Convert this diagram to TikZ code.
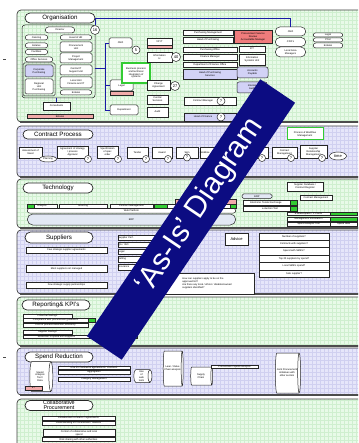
\documentclass[tikz,border=0pt]{standalone}
\usepackage{fontspec}
\setmainfont{Liberation Sans}
\usepackage{tikz}
\usetikzlibrary{positioning,shapes.geometric,shapes.misc}
\definecolor{pgrn}{HTML}{E8FAE8}
\definecolor{ggrn}{HTML}{CFEFCF}
\definecolor{plav}{HTML}{E6E6FA}
\definecolor{glav}{HTML}{D0D0F0}
\definecolor{boxlav}{HTML}{D2D2F6}
\definecolor{barpink}{HTML}{F2AAAA}
\definecolor{redbox}{HTML}{F07C7C}
\definecolor{brgrn}{HTML}{33CC33}
\definecolor{orgblue}{HTML}{1A1AA6}
\definecolor{navyban}{HTML}{0C0C82}
\definecolor{erpblue}{HTML}{E2E8F4}
\newcommand\tfnt{\fontsize{2.5}{2.9}\selectfont}
\newcommand\ttlfnt{\fontsize{6.2}{6.6}\selectfont}
\newcommand\numfnt{\fontsize{4}{4}\selectfont}
\tikzset{
  panel/.style={draw=black!75,line width=0.7pt,rounded corners=4pt},
  ttl/.style={draw=black!85,fill=white,rounded rectangle,line width=0.7pt,font=\ttlfnt,inner sep=0pt,align=center},
  bx/.style={draw=black!85,fill=white,line width=0.5pt,inner sep=0.3pt,align=center,font=\tfnt},
  rbx/.style={bx,rounded corners=1.5pt},
  pil/.style={bx,rounded rectangle},
  lbx/.style={bx,fill=boxlav},
  gbl/.style={draw=black!85,fill=brgrn,line width=0.4pt,inner sep=0pt},
  bar/.style={bx,fill=barpink},
  num/.style={circle,draw=black!85,fill=white,line width=0.5pt,inner sep=0pt,font=\numfnt},
  ovl/.style={ellipse,draw=black!85,fill=white,line width=0.5pt,inner sep=0pt,font=\tfnt},
  cyl/.style={cylinder,draw=black!85,fill=white,line width=0.5pt,inner sep=0.3pt,align=center,font=\tfnt,aspect=0.35},
  blu/.style={draw=orgblue,line width=0.8pt},
  sz/.style 2 args={minimum width=#1,minimum height=#2},
}
\begin{document}
\begin{tikzpicture}[x=1pt,y=-1pt]
  \useasboundingbox (0,0) rectangle (358,443);
  \clip (0,0) rectangle (358,443);
  \fill[white] (0,0) rectangle (358,443);
  \foreach \ya/\yb/\pf/\pg in {10/122/pgrn/ggrn,126/177/plav/glav,179/228/pgrn/ggrn,230/294/plav/glav,
      297/346/pgrn/ggrn,348/395/plav/glav,399/470/pgrn/ggrn}{
    \begin{scope}
      \clip[rounded corners=4pt] (17,\ya) rectangle (380,\yb);
      \fill[\pf] (17,\ya) rectangle (380,\yb);
      \begin{scope}[y=1pt]
        \draw[\pg,line width=0.25pt,step=4] (17,-\yb) grid (380,-\ya);
      \end{scope}
    \end{scope}
    \draw[panel] (17,\ya) rectangle (380,\yb);
    \draw[black!70,line width=1.3pt] (20,\yb) -- (380,\yb);
  }
  \fill[black!70] (3,59) rectangle (6,60.5);
  \fill[black!70] (3,356.5) rectangle (6,358);

  \node[ttl,sz={70}{10}] (torg) at (60,18) {Organisation};
  \node[ttl,sz={70}{9}] (tcon) at (58,134.5) {Contract Process};
  \node[ttl,sz={70}{10}] (ttec) at (58,188) {Technology};
  \node[ttl,sz={68}{11}] (tsup) at (59,237.5) {Suppliers};
  \node[ttl,sz={68}{10}] (trep) at (56,305) {Reporting\& KPI's};
  \node[ttl,sz={68}{10}] (tspd) at (59,357) {Spend Reduction};
  \node[ttl,sz={68}{10},font=\fontsize{5.4}{5}\selectfont] (tcol) at (59,405.5) {Collaborative\\Procurement};

  \node[rbx,fill=none,sz={73}{73},rounded corners=3pt] (grp) at (58.5,61.5) {};
  \node[pil,sz={30}{6}] (dir) at (60,30) {Director};
  \node[num,minimum size=9] (c16) at (95,30) {16};
  \node[pil,sz={23}{5}] (cat) at (36.5,37.5) {Catering};
  \node[pil,sz={23}{5}] (est) at (36.5,45.5) {Estates};
  \node[pil,sz={23}{5}] (fac) at (36.5,52) {Facilities};
  \node[pil,sz={28}{5}] (offs) at (39,59.5) {Office Services};
  \node[rbx,fill=none,sz={32}{33}] (sub) at (39,79.5) {};
  \node[lbx,rounded corners=1.5pt,sz={28}{12}] (corp) at (39,71) {Corporate\\Purchasing};
  \node[rbx,sz={28}{15}] (regn) at (39,86.5) {Regional\\Unit\\Purchasing};
  \node[pil,sz={32}{5}] (hhr) at (76,37.5) {Head of HR};
  \node[rbx,sz={32}{10}] (pru) at (76,47) {Procurement\\Unit};
  \node[rbx,sz={32}{10}] (prm) at (76,58) {Project\\Management};
  \node[rbx,sz={32}{10}] (citu) at (76,70) {Central IT\\Support Unit};
  \node[rbx,sz={32}{11}] (locf) at (76,82.5) {Local Unit\\Finance and IT};
  \node[pil,sz={32}{5}] (est2) at (76,92.5) {Estates};
  \node[bx,sz={27}{8}] (cons) at (56.5,106) {Consultants};
  \node[bar,sz={66}{3.5}] (obar) at (60,116.5) {Estates};
  \draw[orgblue,line width=0.6pt] (cons.north) -- (cons.north |- grp.south);

  \node[rbx,sz={23}{10}] (jb) at (120.5,43) {CEO};
  \node[num,minimum size=8] (c5) at (136,50) {5};
  \node[rbx,sz={23}{11}] (legal) at (121.5,85.5) {Legal};
  \node[bar,sz={23}{4}] (lbar) at (121.5,93) {};
  \node[rbx,sz={28}{10}] (dept) at (124,110) {Department};
  \node[bx,draw=brgrn,line width=2pt,sz={28}{20}] (bpi) at (136,73) {Business process\\and technical\\integration of\\systems};
  \coordinate (tkt) at (105,43);
  \coordinate (tkb) at (105,110);
  \draw[blu] (jb.west) -- (tkt) -- (tkb) -- (dept.west);
  \draw[blu] (legal.west) -- (legal.west -| tkt);
  \draw[blu] ([yshift=-6.5pt]grp.east) -- ([yshift=-6.5pt]grp.east -| tkt);

  \node[bx,sz={25}{7}] (vp) at (159.5,41.5) {VP IT};
  \node[bar,sz={25}{3}] (vbar) at (159.5,46.5) {};
  \node[bx,sz={25}{10}] (infh) at (159.5,57) {Information\\H};
  \node[num,minimum size=9] (c40) at (176,57) {40};
  \node[bx,sz={23}{10}] (chg) at (158.5,85) {Change\\Agreement};
  \node[num,minimum size=9] (c27) at (175,86) {27};
  \node[bx,sz={21}{9}] (csv) at (157.5,99.5) {Central\\Services};
  \node[bx,sz={21}{10}] (aud) at (157.5,112) {Audit};

  \node[bx,sz={50}{5}] (pm) at (208,32.5) {Purchasing Management};
  \node[bx,sz={50}{6}] (hop) at (208,40) {Head of Purchasing};
  \node[bx,sz={54}{5}] (pof) at (210,49.5) {Purchasing Office};
  \node[bx,sz={54}{6}] (fin) at (210,57) {Finance Manager};
  \node[bx,sz={54}{5}] (dfo) at (210,64.5) {Department of Finance Office};
  \node[lbx,sz={54}{10}] (hps) at (210,74) {Head of Purchasing\\Services};
  \node[bx,fill=redbox,sz={38}{13}] (psr) at (253,36.5) {Procurement Service\\Review\\Accountable Manager};
  \node[bx,sz={26}{6}] (ict) at (252,49) {ICT};
  \node[bx,sz={26}{11}] (isu) at (252,59.5) {Information\\Systems Unit};
  \node[lbx,rounded corners=2pt,sz={31}{11}] (acp) at (252.5,72.5) {Accounts\\Payable};
  \node[lbx,rounded corners=2pt,sz={30}{11}] (iau) at (252,87.5) {Internal\\Audit};
  \node[bx,sz={52}{8}] (cmg) at (210,101) {Contract Manager\hspace{14pt}};
  \node[num,minimum size=8] (q1) at (221,101) {?};
  \node[lbx,sz={52}{8}] (hfn) at (210,117) {Head of Finance\hspace{14pt}};
  \node[num,minimum size=8] (q2) at (221,117) {?};
  \node[pil,sz={31}{9}] (ceo) at (290.5,31.5) {CEO};
  \node[pil,sz={31}{9}] (cfo) at (290.5,42) {CFO's};
  \node[pil,sz={31}{10}] (lam) at (290.5,52) {Local Area\\Managers};
  \node[pil,sz={30}{4}] (sp1) at (328,35) {Legal};
  \node[pil,sz={30}{4}] (sp2) at (328,40) {PSU};
  \node[pil,sz={30}{5}] (sp3) at (328,45.5) {Estates};
  \draw[blu] (torg.east) -| (ceo.north);
  \draw[blu] (c16.north) -- (c16.north |- torg.east);

  \node[bx,sz={23}{11}] (p1) at (30.5,152.5) {Assessment of\\Need};
  \node[ovl,sz={17}{6}] (pln) at (48,159) {Planning};
  \node[bx,sz={31}{12}] (p2) at (72.5,152) {Agreement of strategy\\/ process\\Approval};
  \node[num,minimum size=7] (q3) at (88,159) {?};
  \node[bx,sz={21}{12}] (p3) at (107.5,152) {Specification\\of spec\\order};
  \node[num,minimum size=7] (q4) at (118,159) {?};
  \node[bx,sz={21}{11}] (p4) at (137.5,152.5) {Tender};
  \node[num,minimum size=7] (q5) at (146,159) {?};
  \node[bx,sz={20}{11}] (p5) at (162,152.5) {Award};
  \node[num,minimum size=7] (q6) at (168,159) {?};
  \node[bx,sz={22}{11}] (p6) at (187,152.5) {Sign};
  \node[num,minimum size=7] (q7) at (187,157.5) {?};
  \node[bx,text width=23.4,align=left,minimum height=11] (p7) at (212,152.5) {Mobilise};
  \node[bx,sz={40}{11}] (p8) at (248,152.5) {};
  \node[num,minimum size=7] (q8) at (262,158) {?};
  \node[bx,sz={25}{11}] (p9) at (284.5,152.5) {Contract\\Management};
  \node[num,minimum size=7] (q9) at (291,158) {?};
  \node[bx,sz={27}{13}] (p10) at (313.5,151.5) {Supplier\\Relationship\\Management};
  \node[num,minimum size=7] (q10) at (322,158) {?};
  \node[ovl,sz={17}{8},font=\numfnt] (tim) at (338,156) {time};
  \node[bx,draw=brgrn,line width=1pt,sz={36}{12}] (pwm) at (305,134) {Process \& Workflow\\Management};

  \node[bx,sz={30}{4}] (an1) at (42,206) {Analysis};
  \node[gbl,sz={7}{4}] (an1g) at (30.5,206) {};
  \node[bx,sz={48}{4}] (so1) at (83,206) {Sourcing};
  \node[bx,sz={43}{4}] (cm1) at (131.5,206) {Contract Management};
  \node[gbl,sz={13}{4}] (cm1g) at (160.5,206) {};
  \node[bx,sz={63}{4}] (pay) at (198.5,206) {};
  \node[gbl,sz={6}{4}] (payg) at (233,206) {};
  \node[bar,sz={61}{5}] (epro) at (205.5,201.5) {};
  \node[pil,sz={209}{4.5}] (web) at (131.5,210.75) {Web Platform};
  \node[pil,fill=erpblue,sz={209}{11}] (erp) at (131.5,219.5) {ERP};
  \node[rbx,fill=erpblue,sz={30}{4.5}] (erp2) at (257,196.25) {ERP};
  \node[bx,sz={54}{5}] (etx) at (270,202.5) {Electronic Tender Exchange\hspace{8pt}};
  \node[gbl,sz={7}{5}] (etxg) at (293.5,202.5) {};
  \node[bx,sz={54}{4.5}] (eat) at (270,208.75) {e-Auction Tool};
  \node[gbl,sz={7}{4.5}] (eatg) at (293.5,208.75) {};
  \node[bx,sz={36}{9}] (sdb) at (305,186.5) {Supplier Database /\\Contract Register};
  \node[bx,sz={32}{5}] (cmt) at (316,197.5) {Contract Management};
  \node[bx,sz={43}{3.5}] (tr1) at (308.5,213.75) {e-Marketplace / P-Cards};
  \node[gbl,sz={27}{3.5}] (tr1g) at (343.5,213.75) {};
  \node[bx,sz={43}{3.5}] (tr2) at (308.5,219.25) {Management Information};
  \node[gbl,sz={27}{3.5}] (tr2g) at (343.5,219.25) {};
  \node[bx,sz={43}{3.5}] (tr3) at (308.5,224.25) {Spend Analysis Tool};
  \node[bx,sz={27}{3.5}] (tr3b) at (343.5,224.25) {Spend data};

  \node[bx,sz={81}{6}] (s1) at (66.5,250) {Few strategic supplier agreements};
  \node[bx,sz={81}{7}] (s2) at (66.5,268.5) {Most suppliers not managed};
  \node[bx,sz={81}{6}] (s3) at (66.5,285) {Few strategic supply partnerships};
  \node[bx,text width=41.4,align=left,minimum height=5] (sm1) at (139,237.5) {Supplier Perf.};
  \node[bx,text width=41.4,align=left,minimum height=5] (sm2) at (139,244.5) {QA / ISO};
  \node[bx,text width=41.4,align=left,minimum height=5] (sm3) at (139,251.5) {Legal};
  \node[bx,text width=41.4,align=left,minimum height=6] (sm4) at (139,259) {Vetting};
  \node[bx,text width=41.4,align=left,minimum height=6] (sm5) at (139,267) {Insurance};
  \node[bx,sz={23}{12},font=\numfnt] (adv) at (236.5,239) {Advice};
  \node[bx,sz={70}{7}] (n1) at (294,236.5) {Number of suppliers?};
  \node[bx,sz={70}{7.5}] (n2) at (294,243.75) {Contracts with suppliers?};
  \node[bx,sz={70}{7.5}] (n3) at (294,251.25) {Spend with SME's?};
  \node[bx,sz={70}{7}] (n4) at (294,258.5) {Top 20 suppliers by spend?};
  \node[bx,sz={70}{8}] (n5) at (294,266) {Local SME's spend?};
  \node[bx,sz={70}{7}] (n6) at (294,273.5) {Sole supplier?};
  \node[bx,align=left,sz={94}{21}] (appr) at (207,283.5) {How can suppliers apply to be on the\\approved list?\\Are there any local / ethnic / disabled-owned\\suppliers identified?};

  \node[bx,sz={49}{4}] (k1) at (47.5,316) {Financial Savings};
  \node[bx,sz={65}{4}] (k2) at (55.5,320) {Compliance with procurement guidelines};
  \node[gbl,sz={7}{4}] (k2g) at (91.5,320) {};
  \node[bx,sz={65}{4}] (k3) at (55.5,325) {Cost of process reduction, efficiency};
  \node[bx,sz={49}{4}] (k4) at (47.5,332) {Supplier Savings};
  \node[bx,sz={67}{3.5}] (k5) at (56.5,336.75) {Reduction in spend with suppliers};
  \node[gbl,sz={47}{3.5}] (k5g) at (113.5,336.75) {};

  \node[cyl,sz={30}{23}] (cy1) at (40,376.5) {Spend\\Analysis\\Tool /\\Data};
  \node[bar,sz={17}{4}] (cbar) at (33.5,388) {£?};
  \node[bx,sz={72}{3.5}] (sr1) at (94,367.5) {Use of Framework agreements / contracts};
  \node[bx,sz={72}{4}] (sr2) at (94,372) {Aggregation};
  \node[bx,sz={72}{4}] (sr3) at (94,379) {Category Management};
  \node[cyl,sz={13}{18}] (cy2) at (141.5,376) {Use\\of\\web\\tools};
  \node[cyl,sz={35}{9}] (cy3) at (172.5,368.5) {Lean / Value\\Chain analysis};
  \node[cyl,sz={18}{22}] (cy4) at (201,376) {Supply\\Chain};
  \node[bx,sz={47}{3.5}] (sr4) at (234.5,366.5) {Procurement Spend Analysis};
  \node[cyl,sz={40}{20}] (cy5) at (287,373) {Joint Procurement\\initiatives with\\other sectors};

  \node[bx,sz={73}{4}] (cp1) at (78.5,418) {Collaborative contracts / agreements};
  \node[bx,sz={73}{4}] (cp2) at (78.5,423) {Understanding of Procurement / markets};
  \node[bx,sz={72}{7}] (cp3) at (79,433) {Control of collaborative and local\\spend};
  \node[bx,sz={73}{4}] (cp4) at (78.5,439.5) {Risk sharing with other authorities};

  \node[fill=navyban,rotate=56,sz={310}{42}] (banner) at (191,219.5) {};
  \node[rotate=56,text=white,font=\fontsize{30}{30}\selectfont] (bantxt) at (200,206) {`As-Is' Diagram};
\end{tikzpicture}
\end{document}
